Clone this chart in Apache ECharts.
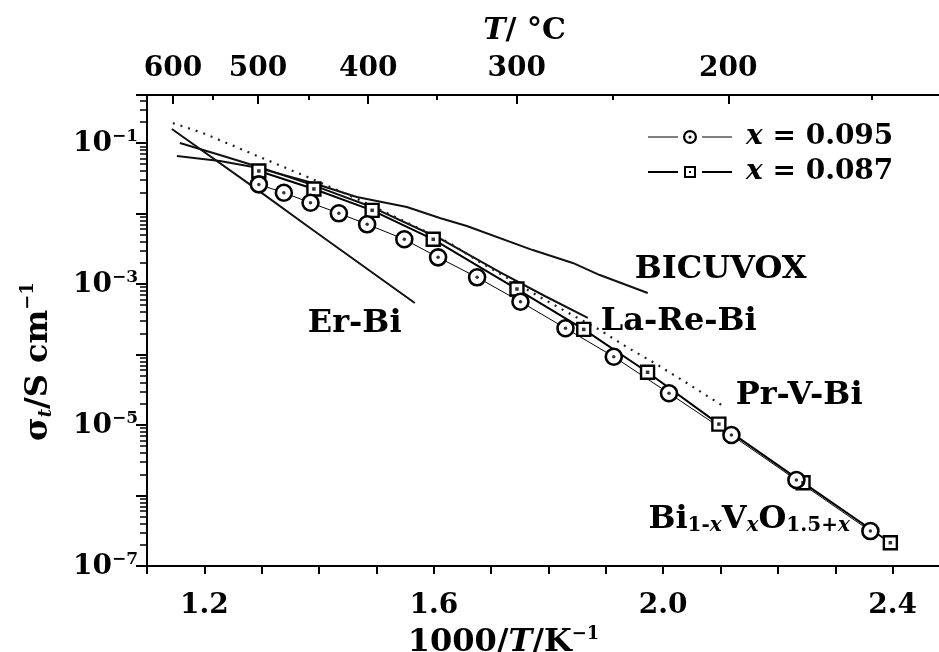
<!DOCTYPE html>
<html>
<head>
<meta charset="utf-8">
<script src="https://cdn.jsdelivr.net/npm/echarts@6.0.0/dist/echarts.min.js"></script>
<style>
html,body{margin:0;padding:0;background:#ffffff;}
#chart{width:939px;height:652px;}
</style>
</head>
<body>
<div id="chart"></div>
<script>
// ---------- data ----------
// Bi(1-x)V(x)O(1.5+x), x = 0.095 (circles)
const x095 = [1.295, 1.3386, 1.3851, 1.4345, 1.4838, 1.5486, 1.6075, 1.6755, 1.7511, 1.8296, 1.9138, 2.0101, 2.1189, 2.2322, 2.3612];
const s095 = [0.0259, 0.0197, 0.01422, 0.01007, 0.00703, 0.00431, 0.00239, 0.001245, 5.61e-4, 2.36e-4, 9.31e-5, 2.82e-5, 7.21e-6, 1.66e-6, 3.13e-7];
// x = 0.087 (squares)
const x087 = [1.295, 1.391, 1.4925, 1.599, 1.745, 1.8615, 1.9727, 2.097, 2.2437, 2.396];
const s087 = [0.0401, 0.0223, 0.0111, 0.00431, 8.49e-4, 2.27e-4, 5.6e-5, 1.03e-5, 1.52e-6, 2.14e-7];
// reference materials
const xErBi = [1.1434, 1.2933, 1.3892, 1.5669];
const sErBi = [0.158, 0.0215, 0.00583, 5.37e-4];
const xBicuvox = [1.1521, 1.2271, 1.295, 1.3892, 1.4658, 1.553, 1.6105, 1.6576, 1.7726, 1.8423, 1.8894, 1.973];
const sBicuvox = [0.0655, 0.0556, 0.0441, 0.0271, 0.01714, 0.01236, 0.00863, 0.00665, 0.00303, 0.00199, 0.00134, 7.45e-4];
const xLaReBi = [1.1573, 1.2271, 1.295, 1.3892, 1.492, 1.6157, 1.7151, 1.7935, 1.8685];
const sLaReBi = [0.1, 0.0676, 0.0457, 0.0253, 0.01236, 0.00421, 0.00148, 6.76e-4, 3.30e-4];
const xPrVBi = [1.1451, 1.1974, 1.2968, 1.3839, 1.4711, 1.6279, 1.6802, 1.7848, 1.8319, 1.8894, 1.9364, 1.9817, 2.041, 2.1072];
const sPrVBi = [0.192, 0.1387, 0.0633, 0.0319, 0.01552, 0.00382, 0.00205, 6.55e-4, 4.01e-4, 2.23e-4, 1.276e-4, 7.84e-5, 3.95e-5, 1.80e-5];
// tick labels
const bottomLabels = [1.2, 1.6, 2.0, 2.4];
const topMajorT = [600, 500, 400, 300, 200];
const topMinorT = [550, 450, 350, 250, 150];
const yLabelExps = [-7, -5, -3, -1];
const seriesNames = ['x = 0.095', 'x = 0.087'];

// ---------- helpers ----------
const pairs = (xs, ys) => xs.map((x, i) => [x, ys[i]]);
const invT = t => 1000 / (t + 273.15);
const FONT = '"DejaVu Serif", "Liberation Serif", serif';
const txt = (size, extra) => Object.assign({fontFamily: FONT, fontWeight: 'bold', fontSize: size, color: '#000'}, extra || {});

const yMinor = [];
for (let e = -7; e <= -1; e++) for (let k = 2; k <= 9; k++) yMinor.push(k * Math.pow(10, e));
yMinor.push(0.2, 0.3, 0.4);

const ICON_CIRCLE = 'path://M0 6.5H30V7.5H0Z M35 7A7 7 0 1 0 49 7A7 7 0 1 0 35 7Z M37.2 7A4.8 4.8 0 1 1 46.8 7A4.8 4.8 0 1 1 37.2 7Z M40.5 7A1.5 1.5 0 1 0 43.5 7A1.5 1.5 0 1 0 40.5 7Z M54 6.5H84V7.5H54Z';
const ICON_SQUARE = 'path://M0 6H30V8H0Z M36 1H48V13H36Z M38 3V11H46V3Z M41 6H43V8H41Z M54 6H84V8H54Z';

const chart = echarts.init(document.getElementById('chart'), null, {renderer: 'canvas'});

const lineBase = {type: 'line', xAxisIndex: 0, yAxisIndex: 0, symbol: 'none', silent: true, animation: false};
const annLabel = (size) => ({show: true, fontFamily: FONT, fontWeight: 'bold', fontSize: size, color: '#000', valueAnimation: false});

const option = {
  animation: false,
  backgroundColor: '#ffffff',
  grid: {left: 147, top: 95, width: 803, height: 471, containLabel: false, outerBoundsMode: 'none'},
  xAxis: [
    {
      type: 'value', position: 'bottom', min: 1.1, max: 2.5, interval: 0.1,
      axisLine: {show: true, onZero: false, lineStyle: {color: '#000', width: 2}},
      axisTick: {show: true, inside: false, length: 8, lineStyle: {color: '#000', width: 2}},
      splitLine: {show: false},
      axisLabel: {
        margin: 26, ...txt(28),
        formatter: v => bottomLabels.some(b => Math.abs(b - v) < 1e-6) ? v.toFixed(1) : ''
      },
      name: '{n|1000/}{t|T}{n|/K}{s|−1}', nameLocation: 'middle', nameGap: 46,
      nameTextStyle: {
        padding: [0, 90, 0, 0],
        rich: {
          n: txt(32, {lineHeight: 34, verticalAlign: 'bottom'}),
          t: txt(32, {fontStyle: 'italic', lineHeight: 34, verticalAlign: 'bottom'}),
          s: txt(18, {lineHeight: 14, verticalAlign: 'top'})
        }
      }
    },
    {
      type: 'value', position: 'top', min: 1.1, max: 2.5,
      axisLine: {show: true, onZero: false, lineStyle: {color: '#000', width: 2}},
      axisTick: {show: true, inside: true, length: 9, customValues: topMajorT.map(invT), lineStyle: {color: '#000', width: 2}},
      splitLine: {show: false},
      axisLabel: {
        margin: 12, ...txt(28), customValues: topMajorT.map(invT),
        formatter: v => String(Math.round((1000 / v - 273.15) / 10) * 10)
      },
      name: '{t|T}{n|/ °C}', nameLocation: 'middle', nameGap: 49,
      nameTextStyle: {
        padding: [0, 48, 0, 0],
        rich: {
          t: txt(30, {fontStyle: 'italic'}),
          n: txt(30)
        }
      }
    },
    {
      type: 'value', position: 'top', min: 1.1, max: 2.5,
      axisLine: {show: false, onZero: false},
      axisTick: {show: true, inside: true, length: 5, customValues: topMinorT.map(invT), lineStyle: {color: '#000', width: 2}},
      splitLine: {show: false},
      axisLabel: {show: false}
    }
  ],
  yAxis: [
    {
      type: 'log', logBase: 10, min: 1e-7, max: 0.48, position: 'left',
      axisLine: {show: true, onZero: false, lineStyle: {color: '#000', width: 2}},
      axisTick: {show: true, inside: false, length: 11, lineStyle: {color: '#000', width: 2}},
      splitLine: {show: false},
      minorTick: {show: false},
      axisLabel: {
        margin: 9,
        formatter: v => {
          const e = Math.log10(v);
          const r = Math.round(e);
          if (Math.abs(e - r) > 1e-6 || !yLabelExps.includes(r)) return '';
          return '{b|10}{s|−' + Math.abs(r) + '}';
        },
        rich: {
          b: txt(28, {lineHeight: 30, verticalAlign: 'bottom'}),
          s: txt(17, {lineHeight: 14, verticalAlign: 'top'})
        }
      },
      name: '{n|σ}{sub|t}{n|/S cm}{sup|−1}', nameLocation: 'middle', nameGap: 92,
      nameTextStyle: {
        padding: [0, 62, 0, 0],
        rich: {
          n: txt(32, {lineHeight: 36, verticalAlign: 'bottom'}),
          sub: txt(18, {fontStyle: 'italic', lineHeight: 14, verticalAlign: 'bottom'}),
          sup: txt(18, {lineHeight: 14, verticalAlign: 'top'})
        }
      }
    },
    {
      type: 'log', logBase: 10, min: 1e-7, max: 0.48, position: 'left',
      axisLine: {show: false, onZero: false},
      axisTick: {show: true, inside: false, length: 7, customValues: yMinor, lineStyle: {color: '#000', width: 1.5}},
      splitLine: {show: false},
      axisLabel: {show: false}
    }
  ],
  legend: {
    show: true, orient: 'vertical', left: 648, top: 123, padding: 0,
    itemWidth: 84, itemHeight: 14, itemGap: 7, selectedMode: false,
    data: [
      {name: seriesNames[0], icon: ICON_CIRCLE, itemStyle: {color: '#000', borderWidth: 0, borderColor: 'transparent'}},
      {name: seriesNames[1], icon: ICON_SQUARE, itemStyle: {color: '#000', borderWidth: 0, borderColor: 'transparent'}}
    ],
    formatter: n => '{i|x}{n| = ' + n.split('= ')[1] + '}',
    textStyle: {
      padding: [0, 0, 0, 9],
      rich: {
        i: txt(28, {fontStyle: 'italic'}),
        n: txt(28)
      }
    }
  },
  series: [
    {
      ...lineBase, name: 'Er-Bi', data: pairs(xErBi, sErBi),
      lineStyle: {color: '#111', width: 2},
      endLabel: {...annLabel(32), formatter: () => 'Er-Bi', offset: [-115, 21]}
    },
    {
      ...lineBase, name: 'BICUVOX', data: pairs(xBicuvox, sBicuvox),
      lineStyle: {color: '#111', width: 2},
      endLabel: {...annLabel(32), formatter: () => 'BICUVOX', offset: [-21, -23]}
    },
    {
      ...lineBase, name: 'La-Re-Bi', data: pairs(xLaReBi, sLaReBi),
      lineStyle: {color: '#111', width: 2},
      endLabel: {...annLabel(32), formatter: () => 'La-Re-Bi', offset: [5, 4]}
    },
    {
      ...lineBase, name: 'Pr-V-Bi', data: pairs(xPrVBi, sPrVBi),
      lineStyle: {color: '#222', width: 2.2, type: [2, 6]},
      endLabel: {...annLabel(32), formatter: () => 'Pr-V-Bi', offset: [3, -11]}
    },
    {
      type: 'line', name: seriesNames[1], xAxisIndex: 0, yAxisIndex: 0, silent: true, animation: false,
      data: pairs(x087, s087),
      symbol: 'rect', symbolSize: 13, showSymbol: true, showAllSymbol: true,
      itemStyle: {color: '#fff', borderColor: '#000', borderWidth: 2.4},
      lineStyle: {color: '#000', width: 2}, z: 3
    },
    {
      type: 'line', name: seriesNames[0], xAxisIndex: 0, yAxisIndex: 0, silent: true, animation: false,
      data: pairs(x095, s095),
      symbol: 'circle', symbolSize: 16, showSymbol: true, showAllSymbol: true,
      itemStyle: {color: '#fff', borderColor: '#000', borderWidth: 2.6},
      lineStyle: {color: '#000', width: 1}, z: 3,
      endLabel: {
        show: true, valueAnimation: false, offset: [-230, -13],
        formatter: () => '{m|Bi}{d|1-}{di|x}{m|V}{di|x}{m|O}{d|1.5+}{di|x}',
        rich: {
          m: txt(32, {lineHeight: 36, verticalAlign: 'bottom'}),
          d: txt(20, {lineHeight: 16, verticalAlign: 'bottom'}),
          di: txt(20, {fontStyle: 'italic', lineHeight: 16, verticalAlign: 'bottom'})
        }
      }
    },
    {
      type: 'scatter', name: 'dots095', xAxisIndex: 0, yAxisIndex: 0, silent: true, animation: false,
      data: pairs(x095, s095), symbol: 'circle', symbolSize: 3.5, itemStyle: {color: '#000'}, z: 5
    },
    {
      type: 'scatter', name: 'dots087', xAxisIndex: 0, yAxisIndex: 0, silent: true, animation: false,
      data: pairs(x087, s087), symbol: 'rect', symbolSize: 3.5, itemStyle: {color: '#000'}, z: 5
    }
  ]
};
chart.setOption(option);
</script>
</body>
</html>
